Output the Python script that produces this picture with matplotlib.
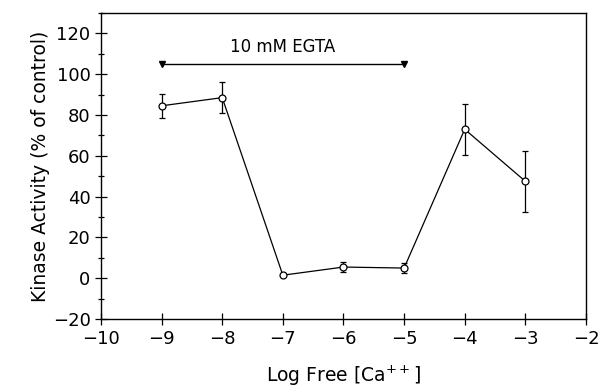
import matplotlib
matplotlib.use("Agg")
import matplotlib.pyplot as plt

log_ca = [-9, -8, -7, -6, -5, -4, -3]
activity = [84.5, 88.5, 1.5, 5.5, 5.0, 73.0, 47.5]
err = [6, 7.5, 0.5, 2.5, 2.5, 12.5, 15.0]
egta_x = [-9, -5]
egta_y = [105, 105]
egta_label = "10 mM EGTA"

plt.rcParams['font.family'] = ['DejaVu Sans']
fig = plt.figure(figsize=(6.01, 3.92), dpi=100)
ax = fig.add_axes([0.168, 0.186, 0.807, 0.781])

ax.errorbar(log_ca, activity, yerr=err, color='black', lw=0.9, elinewidth=0.9,
            capsize=2.5, capthick=0.9, marker='o', ms=5, mfc='white', mec='black', mew=0.9)
ax.plot(egta_x, egta_y, color='black', lw=1.0, marker='v', ms=5, mfc='black')
ax.text(sum(egta_x) / 2, 109, egta_label, ha='center', va='bottom', fontsize=12)

ax.set_xlim(-10, -2)
ax.set_ylim(-20, 130)
ax.set_xticks(range(-10, -1))
ax.set_xticklabels(['\u221210', '\u22129', '\u22128', '\u22127', '\u22126', '\u22125', '\u22124', '\u22123', '\u22122'])
ax.set_yticks(range(-20, 121, 20))
ax.set_yticks(range(-10, 131, 20), minor=True)
ax.tick_params(which='major', direction='inout', length=8, width=0.9, labelsize=13)
ax.tick_params(which='minor', direction='inout', length=5, width=0.9)
for s in ax.spines.values():
    s.set_linewidth(1.0)

ax.set_xlabel('Log Free [Ca$^{++}$]', fontsize=13.5, labelpad=12)
ax.set_ylabel('Kinase Activity (% of control)', fontsize=13.5, labelpad=2)

fig.savefig('out.png', dpi=100)
